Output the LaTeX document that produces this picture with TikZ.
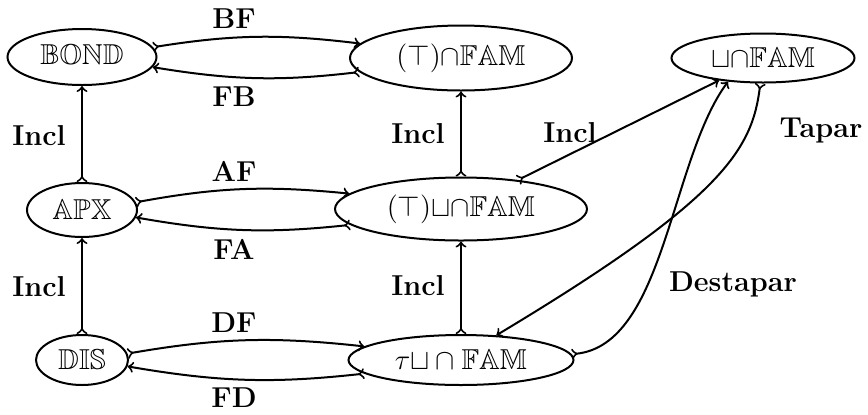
\documentclass[tikz,border=0pt]{standalone}
\usepackage{amsmath,amssymb,amsfonts}
\usepackage{tikz}
\usetikzlibrary{shapes,positioning}

% texto de ancho nulo para que la elipse no crezca
\newcommand{\ctxt}[1]{\makebox[0pt]{$#1$}}

\tikzset{
  conj/.style={draw,ellipse,line width=1pt,inner sep=0pt,font=\Large},
  etiq/.style={font=\Large\bfseries,inner sep=0pt},
  flecha/.style={line width=1pt,>=to,>->}
}

\begin{document}
\begin{tikzpicture}[x=0.5pt,y=-0.5pt]
\useasboundingbox (0,0) rectangle (868,414);

% Conjuntos
\node (bond) at (82,57) [conj,minimum width=74.5pt,minimum height=28pt] {\ctxt{\mathbb{BOND}}};
\node (topf) at (461,58) [conj,minimum width=111pt,minimum height=32.5pt] {\ctxt{(\top){\cap}\mathbb{FAM}}};
\node (cupf) at (763,58) [conj,minimum width=91.5pt,minimum height=24.5pt] {\ctxt{{\sqcup}{\cap}\mathbb{FAM}}};
\node (apx) at (82,210) [conj,minimum width=55pt,minimum height=27pt] {\ctxt{\mathbb{APX}}};
\node (midf) at (461,209) [conj,minimum width=126pt,minimum height=31.5pt] {\ctxt{(\top){\sqcup}{\cap}\mathbb{FAM}}};
\node (dis) at (82,360) [conj,minimum width=46pt,minimum height=25pt] {\ctxt{\mathbb{DIS}}};
\node (tauf) at (461,360) [conj,minimum width=112.5pt,minimum height=25pt] {\ctxt{\tau{\sqcup}\cap\mathbb{FAM}}};

%Curve Lines
\draw [flecha] (bond) to [bend left=8] (topf);
\draw [flecha] (topf) to [bend left=8] (bond);
\draw [flecha] (apx) to [bend left=8] (midf);
\draw [flecha] (midf) to [bend left=8] (apx);
\draw [flecha] (dis) to [bend left=8] (tauf);
\draw [flecha] (tauf) to [bend left=8] (dis);
\draw [flecha] (tauf.3.5) .. controls (665,345) and (670,160) .. (cupf.214);
\draw [flecha] (cupf.264) .. controls (752,150) and (722,200) .. (tauf.35.5);

%Straight Lines
\draw [flecha] (apx) -- (bond);
\draw [flecha] (dis) -- (apx);
\draw [flecha] (midf) -- (topf);
\draw [flecha] (tauf) -- (midf);
\draw [flecha] (midf.27) -- (cupf.207);

% Text Node
\node [etiq] (lbf) at (234,19) {BF};
\node [etiq] (lfb) at (234,97) {FB};
\node [etiq] (laf) at (234,171) {AF};
\node [etiq] (lfa) at (234,249) {FA};
\node [etiq] (ldf) at (234,323) {DF};
\node [etiq] (lfd) at (234,398) {FD};
\node [etiq] (lib) at (39,136) {Incl};
\node [etiq] (lia) at (39,287) {Incl};
\node [etiq] (lit) at (418,134) {Incl};
\node [etiq] (lim) at (418,286) {Incl};
\node [etiq] (lid) at (570,133) {Incl};
\node [etiq] (ltap) at (821,131) {Tapar};
\node [etiq] (ldes) at (733,284) {Destapar};

\end{tikzpicture}
\end{document}
